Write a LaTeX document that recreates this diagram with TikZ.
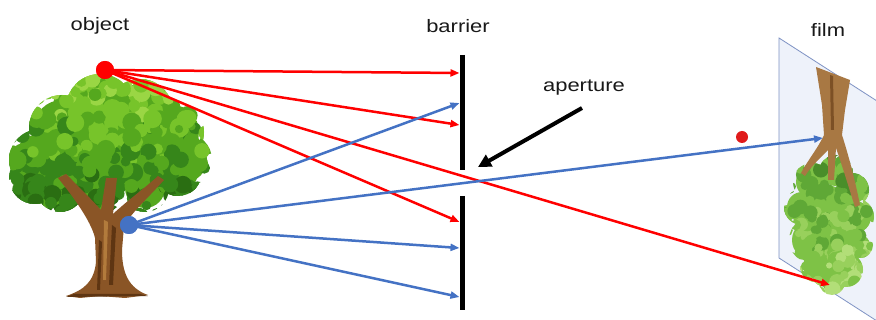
\documentclass[tikz,border=0pt]{standalone}
\usepackage{fontspec}
\setmainfont{Liberation Sans}
\newfontfamily\labfont[FakeStretch=1.22]{Liberation Sans}
\usetikzlibrary{arrows.meta}
\definecolor{rayred}{HTML}{FF0000}
\definecolor{rayblue}{HTML}{4472C4}
\definecolor{dotred}{HTML}{E01B1B}
\definecolor{filmfill}{HTML}{EEF2FA}
\definecolor{filmedge}{HTML}{7F93C4}
\definecolor{leafc1}{HTML}{9AD644}
\definecolor{leafc2}{HTML}{77C42A}
\definecolor{leafc3}{HTML}{55A81E}
\definecolor{leafc4}{HTML}{36861A}
\definecolor{leafc5}{HTML}{2A6E12}
\definecolor{bark}{HTML}{8A5526}
\definecolor{barkdark}{HTML}{5E3512}
\definecolor{barklight}{HTML}{B27B3C}
\definecolor{fbark}{HTML}{A87843}
\definecolor{fleafc1}{HTML}{B2DE78}
\definecolor{fleafc2}{HTML}{98D05C}
\definecolor{fleafc3}{HTML}{7EC246}
\definecolor{fleafc4}{HTML}{5FA836}
\definecolor{fleafc5}{HTML}{4A8E2A}
\begin{document}
\begin{tikzpicture}[x=1pt,y=-1pt,
  lab/.style={font=\labfont\fontsize{18}{20}\selectfont, inner sep=0pt, text=black!90},
  ray/.style={line width=2.5pt, -{Triangle[length=9pt,width=7pt]}},
  redray/.style={ray, draw=rayred, fill=rayred},
  blueray/.style={ray, draw=rayblue, fill=rayblue},
  barrierline/.style={line width=5pt, black},
  dot/.style={circle, inner sep=0pt, minimum size=18pt}]
\clip (0,0) rectangle (876,320);
\fill[white] (0,0) rectangle (876,320);
\pgfmathsetseed{7}

% ---------- tree (object) ----------
\fill[leafc3] (40,160) circle[radius=26] (62,128) circle[radius=28] (100,108) circle[radius=30]
  (140,112) circle[radius=28] (172,132) circle[radius=27] (185,160) circle[radius=22]
  (120,150) circle[radius=38] (80,150) circle[radius=35] (150,165) circle[radius=28]
  (35,178) circle[radius=22] (60,188) circle[radius=20] (100,190) circle[radius=20]
  (145,188) circle[radius=20] (178,172) circle[radius=20];
\begin{scope}
\clip (40,160) circle[radius=31] (62,128) circle[radius=33] (100,108) circle[radius=34]
  (140,112) circle[radius=33] (172,132) circle[radius=32] (185,160) circle[radius=27]
  (120,150) circle[radius=42] (80,150) circle[radius=40] (150,165) circle[radius=32]
  (35,178) circle[radius=26] (60,188) circle[radius=24] (100,190) circle[radius=24]
  (145,188) circle[radius=24] (178,172) circle[radius=24];
\foreach \i in {1,...,420}{
  \pgfmathsetmacro\px{5+205*rnd}
  \pgfmathsetmacro\py{70+148*rnd}
  \pgfmathsetmacro\pr{4+6*rnd}
  \pgfmathtruncatemacro\pc{1+int(4.99*(0.6*(\py-70)/148+0.4*rnd))}
  \fill[leafc\pc] (\px,\py) circle[radius=\pr];
}
\end{scope}
% trunk
\fill[bark] (66,296) .. controls (84,290) and (94,282) .. (96,262)
  -- (95,238) .. controls (92,225) and (80,205) .. (58,178)
  -- (66,174) .. controls (82,190) and (92,200) .. (101,210)
  -- (106,178) -- (117,178) -- (113,214)
  .. controls (128,200) and (145,188) .. (158,176)
  -- (164,180) .. controls (148,198) and (132,212) .. (124,226)
  -- (122,250) .. controls (122,272) and (128,288) .. (148,295)
  -- (125,298) -- (100,296) -- (80,298) -- cycle;
\fill[barkdark] (112,225) -- (116,228) -- (113,285) -- (109,285) -- cycle;
\fill[barkdark] (99,240) -- (102,242) -- (100,290) -- (97,290) -- cycle;
\fill[barklight] (104,220) -- (108,222) -- (106,280) -- (103,280) -- cycle;
\fill[barkdark] (74,294) -- (140,294) -- (148,296) -- (66,297) -- cycle;

% ---------- film ----------
\fill[filmfill, draw=filmedge, line width=0.8pt] (779,38) -- (905,119) -- (905,339) -- (779,258) -- cycle;
% inverted tree on film
\fill[fleafc3] (812,182) circle[radius=16] (836,172) circle[radius=14] (852,190) circle[radius=14]
  (802,207) circle[radius=15] (826,207) circle[radius=22] (855,217) circle[radius=16]
  (812,240) circle[radius=20] (840,240) circle[radius=22] (860,245) circle[radius=10]
  (830,265) circle[radius=20] (816,266) circle[radius=13] (846,270) circle[radius=14] (832,282) circle[radius=10];
\begin{scope}
\clip (812,182) circle[radius=19] (836,172) circle[radius=17] (852,190) circle[radius=17]
  (802,207) circle[radius=18] (826,207) circle[radius=25] (855,217) circle[radius=19]
  (812,240) circle[radius=23] (840,240) circle[radius=25] (860,245) circle[radius=13]
  (830,265) circle[radius=23] (816,266) circle[radius=16] (846,270) circle[radius=17] (832,282) circle[radius=13];
\foreach \i in {1,...,220}{
  \pgfmathsetmacro\px{785+90*rnd}
  \pgfmathsetmacro\py{150+145*rnd}
  \pgfmathsetmacro\pr{3+5*rnd}
  \pgfmathtruncatemacro\pc{1+int(4.99*(0.55*(295-\py)/145+0.45*rnd))}
  \fill[fleafc\pc] (\px,\py) circle[radius=\pr];
}
\end{scope}
\fill[fbark] (816,67) -- (850,80) -- (845,110) -- (842,135)
  .. controls (850,160) and (856,185) .. (860,205) -- (855,207)
  .. controls (848,185) and (842,165) .. (836,148)
  -- (834,180) -- (828,180) -- (828,150)
  .. controls (818,160) and (810,168) .. (805,176) -- (801,173)
  .. controls (808,160) and (818,148) .. (824,135) -- (822,105) -- cycle;
\fill[barkdark!60!fbark] (830,75) -- (833,76) -- (834,130) -- (831,130) -- cycle;

% ---------- barrier ----------
\coordinate (bt1) at (462,55);
\coordinate (bb1) at (462,170);
\coordinate (bt2) at (462,196);
\coordinate (bb2) at (462,310);
\draw[barrierline] (bt1) -- (bb1);
\draw[barrierline] (bt2) -- (bb2);

% ---------- dots ----------
\node[dot, fill=rayred] (R) at (105,70) {};
\node[dot, fill=rayblue] (B) at (129,225) {};
\node[circle, inner sep=0pt, minimum size=12pt, fill=dotred] (S) at (742,137) {};

% ---------- ray end points ----------
\coordinate (r1) at (459.5,73);
\coordinate (r2) at (459.5,125);
\coordinate (r3) at (459.5,222);
\coordinate (r4) at (830,285);
\coordinate (b1) at (459.5,103);
\coordinate (b2) at (459.5,248);
\coordinate (b3) at (459.5,297);
\coordinate (b4) at (823,138);

\draw[redray] (R.center) -- (r1);
\draw[redray] (R.center) -- (r2);
\draw[redray] (R.center) -- (r3);
\draw[redray] (R.center) -- (r4);
\draw[blueray] (B.center) -- (b1);
\draw[blueray] (B.center) -- (b2);
\draw[blueray] (B.center) -- (b3);
\draw[blueray] (B.center) -- (b4);
\fill[rayred] (R) circle[radius=9];
\fill[rayblue] (B) circle[radius=9];

% ---------- labels ----------
\node[lab] (lobj) at (100,26) {object};
\node[lab] (lbar) at (458,26) {barrier};
\node[lab] (lap) at (584,88) {aperture};
\node[lab] (lfilm) at (828,30) {film};
\coordinate (apt) at (478,167);
\coordinate (aps) at (582,108);
\draw[line width=4pt, black, -{Triangle[length=13pt,width=13pt]}] (aps) -- (apt);
\end{tikzpicture}
\end{document}
